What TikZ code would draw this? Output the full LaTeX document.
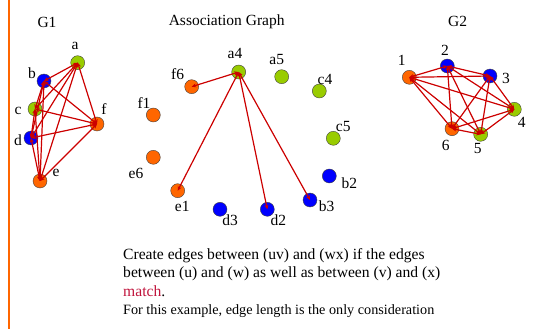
\documentclass[tikz,border=0pt]{standalone}
\usepackage{fontspec}
\setmainfont{Liberation Serif}
\usetikzlibrary{arrows.meta}
\definecolor{vgreen}{HTML}{99CC00}
\definecolor{vblue}{HTML}{0000FF}
\definecolor{vorange}{HTML}{FF6600}
\definecolor{linkred}{HTML}{CC0000}
\definecolor{matchred}{HTML}{C0143C}
\begin{document}
\begin{tikzpicture}[
  x=1pt, y=-1pt,
  vtx/.style={circle, draw=black!75, thin, minimum size=14pt, inner sep=0pt},
  lbl/.style={font=\fontsize{15.5}{15.5}\selectfont, inner sep=0pt},
  ttl/.style={font=\fontsize{15.5}{15.5}\selectfont, inner sep=0pt},
  link/.style={draw=linkred, line width=1.2pt,
               arrows={Stealth[length=4.5pt,width=4pt]-Stealth[length=4.5pt,width=4pt]}},
  ]
  \useasboundingbox (0,0) rectangle (539,329);
  \draw[vorange, line width=1.5pt] (9,0) -- (9,329);

  % G1
  \node[ttl] (t1) at (47,22) {G1};
  \node[vtx, fill=vgreen]  (a) at (77.7,62.7) {};
  \node[vtx, fill=vblue]   (b) at (44,81) {};
  \node[vtx, fill=vgreen]  (c) at (35,109) {};
  \node[vtx, fill=vblue]   (d) at (31,138) {};
  \node[vtx, fill=vorange] (e) at (40,181) {};
  \node[vtx, fill=vorange] (f) at (97,124) {};
  \node[lbl] (la) at (75,46) {a};
  \node[lbl] (lb) at (32,73) {b};
  \node[lbl] (lc) at (18,111) {c};
  \node[lbl] (ld) at (18,140) {d};
  \node[lbl] (le) at (56,173) {e};
  \node[lbl] (lf) at (104,109) {f};
  \foreach \u/\v in {a/b,a/c,a/d,a/e,a/f,b/c,b/d,b/e,b/f,c/d,c/e,c/f,d/e,d/f,e/f}
    \draw[link] (\u.center) -- (\v.center);

  % association graph
  \node[ttl] (t0) at (226.7,21.7) {Association Graph};
  \node[vtx, fill=vgreen]  (a4) at (238.7,72) {};
  \node[vtx, fill=vgreen]  (a5) at (281.7,76.7) {};
  \node[vtx, fill=vgreen]  (c4) at (319.3,91) {};
  \node[vtx, fill=vgreen]  (c5) at (333.3,138.3) {};
  \node[vtx, fill=vblue]   (b2) at (329.3,176) {};
  \node[vtx, fill=vblue]   (b3) at (310,200) {};
  \node[vtx, fill=vblue]   (d2) at (267.3,209.3) {};
  \node[vtx, fill=vblue]   (d3) at (220,209.3) {};
  \node[vtx, fill=vorange] (e1) at (177.7,190.7) {};
  \node[vtx, fill=vorange] (e6) at (153.3,157.3) {};
  \node[vtx, fill=vorange] (f1) at (153.3,115) {};
  \node[vtx, fill=vorange] (f6) at (191.7,86.7) {};
  \node[lbl] (la4) at (235,53) {a4};
  \node[lbl] (la5) at (276.7,60) {a5};
  \node[lbl] (lc4) at (325,79) {c4};
  \node[lbl] (lc5) at (343.3,126.7) {c5};
  \node[lbl] (lb2) at (349.3,182.7) {b2};
  \node[lbl] (lb3) at (326.7,206) {b3};
  \node[lbl] (ld2) at (278.3,220) {d2};
  \node[lbl] (ld3) at (230,220) {d3};
  \node[lbl] (le1) at (182.3,206.7) {e1};
  \node[lbl] (le6) at (136,173.3) {e6};
  \node[lbl] (lf1) at (144,102.7) {f1};
  \node[lbl] (lf6) at (177.7,74) {f6};
  \foreach \v in {f6,e1,d2,b3}
    \draw[link] (a4.center) -- (\v.center);

  % G2
  \node[ttl] (t2) at (457.7,21.7) {G2};
  \node[vtx, fill=vorange] (n1) at (409.3,77.3) {};
  \node[vtx, fill=vblue]   (n2) at (447.3,66) {};
  \node[vtx, fill=vblue]   (n3) at (490,76) {};
  \node[vtx, fill=vgreen]  (n4) at (514.3,109.3) {};
  \node[vtx, fill=vgreen]  (n5) at (480.7,134.3) {};
  \node[vtx, fill=vorange] (n6) at (452,128.7) {};
  \node[lbl] (l1) at (401.7,60) {1};
  \node[lbl] (l2) at (445,50) {2};
  \node[lbl] (l3) at (506,78) {3};
  \node[lbl] (l4) at (521.7,122.7) {4};
  \node[lbl] (l5) at (477.7,148.3) {5};
  \node[lbl] (l6) at (445.7,145.7) {6};
  \foreach \u/\v in {1/2,1/3,1/4,1/5,1/6,2/3,2/4,2/5,2/6,3/4,3/5,3/6,4/5,4/6,5/6}
    \draw[link] (n\u.center) -- (n\v.center);

  % note
  \node[anchor=north west, align=left, inner sep=0pt,
        font=\fontsize{15.6}{18.5}\selectfont] (note) at (123,248)
    {Create edges between (uv) and (wx) if the edges\\
     between (u) and (w) as well as between (v) and (x)\\
     \textcolor{matchred}{match}.\\
     {\fontsize{14.2}{18.5}\selectfont For this example, edge length is the only consideration}};
\end{tikzpicture}
\end{document}
